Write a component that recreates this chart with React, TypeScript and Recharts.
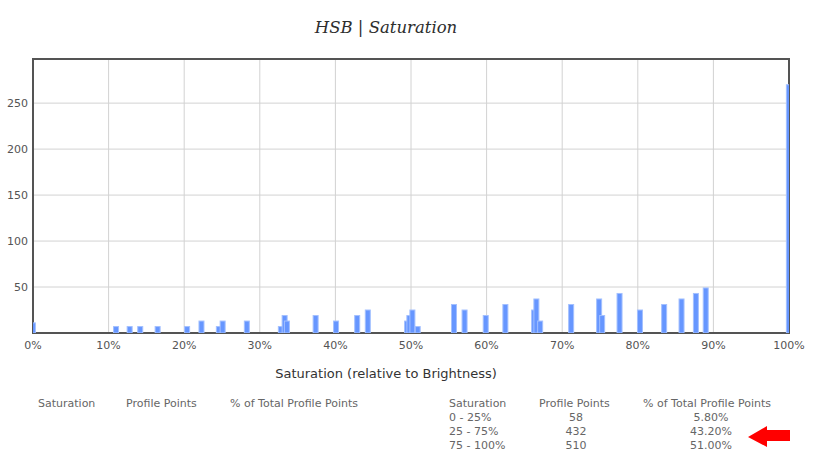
import React from "react";
import { BarChart, Bar, XAxis, YAxis, CartesianGrid, ReferenceArea } from "recharts";

const saturationPct = [
  0, 11.0, 12.8, 14.2, 16.5, 20.4, 22.3, 24.6, 25.1, 28.3,
  32.8, 33.3, 33.6, 37.4, 40.1, 42.9, 44.3, 49.5, 49.8, 50.2,
  50.9, 55.7, 57.1, 59.9, 62.5, 66.3, 66.6, 67.1, 71.2, 74.9,
  75.3, 77.6, 80.3, 83.5, 85.8, 87.7, 89.0, 100,
];
const pointCounts = [
  11, 7, 7, 7, 7, 7, 13, 7, 13, 13,
  7, 19, 13, 19, 13, 19, 25, 13, 19, 25,
  7, 31, 25, 19, 31, 25, 37, 13, 31, 37,
  19, 43, 25, 31, 37, 43, 49, 270,
];
const xTicks = [0, 10, 20, 30, 40, 50, 60, 70, 80, 90, 100];
const yTicks = [50, 100, 150, 200, 250];

const tableHeaders = ["Saturation", "Profile Points", "% of Total Profile Points"];
const rangeLabels = ["0 - 25%", "25 - 75%", "75 - 100%"];
const rangePoints = ["58", "432", "510"];
const rangePercents = ["5.80%", "43.20%", "51.00%"];

const data = saturationPct.map((p, i) => ({ pct: p, count: pointCounts[i] }));

const tableFont: React.CSSProperties = {
  position: "absolute",
  fontFamily: "'DejaVu Sans', Verdana, sans-serif",
  fontSize: 11,
  color: "#666",
  lineHeight: "12px",
  whiteSpace: "nowrap",
};

const BAR_W = 5;
const BarShape = (props: any) => {
  const { x, y, width, height } = props;
  if (height == null || height <= 0) return null;
  const cx = x + width / 2;
  return (
    <rect
      x={cx - BAR_W / 2}
      y={y}
      width={BAR_W}
      height={height}
      fill="#6696ff"
      stroke="#a3c0ff"
      strokeWidth={1}
    />
  );
};

export default function App() {
  const leftCols = [38, 126, 230];
  const rightCols = [449, 539, 643];
  const rightColWidths = [60, 74, 136];
  const rowY = [398, 412, 426, 440];
  return (
    <div style={{ position: "absolute", left: 0, top: 0, width: 814, height: 467, background: "#fff" }}>
      <div
        style={{
          position: "absolute",
          left: 0,
          width: 772,
          top: 19,
          textAlign: "center",
          fontFamily: "'DejaVu Serif', Georgia, serif",
          fontStyle: "italic",
          fontSize: 16.5,
          lineHeight: "18px",
          color: "#2e2e2e",
        }}
      >
        HSB | Saturation
      </div>
      <div style={{ position: "absolute", left: 0, top: 0 }}>
        <BarChart width={814} height={360} data={data} margin={{ top: 59, right: 25, bottom: 7, left: 0 }}>
          <CartesianGrid stroke="#d2d2d2" strokeWidth={1} horizontalValues={yTicks} verticalValues={xTicks} />
          <XAxis
            dataKey="pct"
            type="number"
            domain={[0, 100]}
            allowDataOverflow
            ticks={xTicks}
            tickFormatter={(v: number) => `${v}%`}
            axisLine={false}
            tickLine={false}
            tickSize={0}
            tickMargin={8}
            height={20}
            interval={0}
            tick={{ fill: "#545454", fontSize: 11, fontFamily: "'DejaVu Sans', Verdana, sans-serif" }}
          />
          <YAxis
            type="number"
            domain={[0, 298]}
            allowDataOverflow
            ticks={yTicks}
            axisLine={false}
            tickLine={false}
            tickSize={0}
            tickMargin={5}
            width={33}
            interval={0}
            tick={{ fill: "#545454", fontSize: 11, fontFamily: "'DejaVu Sans', Verdana, sans-serif" }}
          />
          <Bar dataKey="count" barSize={5} fill="#6696ff" shape={BarShape} isAnimationActive={false} />
          <ReferenceArea x1={0} x2={100} y1={0} y2={298} fill="none" fillOpacity={0} stroke="#545454" strokeWidth={2} />
        </BarChart>
      </div>
      <div
        style={{
          position: "absolute",
          left: 0,
          width: 772,
          top: 366,
          textAlign: "center",
          fontFamily: "'DejaVu Sans', Verdana, sans-serif",
          fontSize: 13,
          lineHeight: "15px",
          color: "#333",
        }}
      >
        Saturation (relative to Brightness)
      </div>
      {tableHeaders.map((h, i) => (
        <div key={"l" + i} style={{ ...tableFont, left: leftCols[i], top: rowY[0] }}>{h}</div>
      ))}
      {tableHeaders.map((h, i) => (
        <div key={"r" + i} style={{ ...tableFont, left: rightCols[i], top: rowY[0] }}>{h}</div>
      ))}
      {rangeLabels.map((r, i) => (
        <React.Fragment key={"row" + i}>
          <div style={{ ...tableFont, left: rightCols[0], top: rowY[i + 1] }}>{r}</div>
          <div style={{ ...tableFont, left: rightCols[1], width: rightColWidths[1], textAlign: "center", top: rowY[i + 1] }}>
            {rangePoints[i]}
          </div>
          <div style={{ ...tableFont, left: rightCols[2], width: rightColWidths[2], textAlign: "center", top: rowY[i + 1] }}>
            {rangePercents[i]}
          </div>
        </React.Fragment>
      ))}
      <svg style={{ position: "absolute", left: 740, top: 420 }} width={60} height={35}>
        <polygon points="8,17 27,6 27,10 50,10 50,21 27,21 27,27" fill="#ff0000" />
      </svg>
    </div>
  );
}
